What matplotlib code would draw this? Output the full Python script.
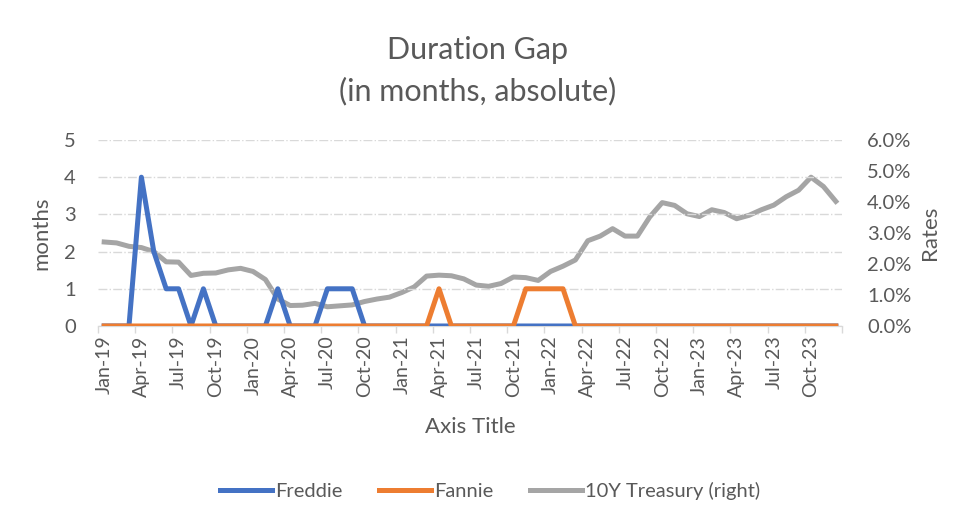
import matplotlib.pyplot as plt
from matplotlib.ticker import FixedLocator, FuncFormatter

plt.rcParams['font.family'] = ['Lato', 'DejaVu Sans']

# даты по месяцам, янв-2019 ... дек-2023
years = ['19', '20', '21', '22', '23']
mon = ['Jan', 'Feb', 'Mar', 'Apr', 'May', 'Jun', 'Jul', 'Aug', 'Sep', 'Oct', 'Nov', 'Dec']
months = [m + '-' + y for y in years for m in mon]

# разрыв дюрации, месяцы
freddie = [0, 0, 0, 4, 2, 1, 1, 0, 1, 0, 0, 0,
           0, 0, 1, 0, 0, 0, 1, 1, 1, 0, 0, 0,
           0, 0, 0, 0, 0, 0, 0, 0, 0, 0, 0, 0,
           0, 0, 0, 0, 0, 0, 0, 0, 0, 0, 0, 0,
           0, 0, 0, 0, 0, 0, 0, 0, 0, 0, 0, 0]
fannie = [0, 0, 0, 0, 0, 0, 0, 0, 0, 0, 0, 0,
          0, 0, 0, 0, 0, 0, 0, 0, 0, 0, 0, 0,
          0, 0, 0, 1, 0, 0, 0, 0, 0, 0, 1, 1,
          1, 1, 0, 0, 0, 0, 0, 0, 0, 0, 0, 0,
          0, 0, 0, 0, 0, 0, 0, 0, 0, 0, 0, 0]
# доходность 10-летних казначейских облигаций, %
treasury = [2.71, 2.68, 2.57, 2.53, 2.40, 2.07, 2.06, 1.63, 1.70, 1.71, 1.81, 1.86,
            1.76, 1.50, 0.87, 0.66, 0.67, 0.73, 0.62, 0.65, 0.68, 0.79, 0.87, 0.93,
            1.08, 1.26, 1.61, 1.64, 1.62, 1.52, 1.32, 1.28, 1.37, 1.58, 1.56, 1.47,
            1.76, 1.93, 2.13, 2.75, 2.90, 3.14, 2.90, 2.90, 3.52, 3.98, 3.89, 3.62,
            3.53, 3.75, 3.66, 3.46, 3.57, 3.75, 3.90, 4.17, 4.38, 4.80, 4.50, 4.02]

blue = '#4472C4'
orange = '#ED7D31'
grey = '#A5A5A5'
txt = '#595959'

fig = plt.figure(figsize=(9.55, 5.21), dpi=100)
ax = fig.add_axes([0.1026, 0.3743, 0.7791, 0.357])
ax2 = ax.twinx()

x = list(range(len(months)))
l1, = ax.plot(x, freddie, color=blue, lw=3.6, solid_joinstyle='round', label='Freddie', zorder=3)
l2, = ax.plot(x, fannie, color=orange, lw=3.6, solid_joinstyle='round', label='Fannie', zorder=4)
l3, = ax2.plot(x, treasury, color=grey, lw=3.6, solid_joinstyle='round', label='10Y Treasury (right)')
ax.set_zorder(ax2.get_zorder() + 1)
ax.patch.set_visible(False)

ax.set_xlim(-0.5, 59.5)
ax.set_ylim(0, 5)
ax2.set_ylim(0, 6)

ax.yaxis.grid(True, color='#D9D9D9', linestyle='-.', linewidth=1)
ax.set_yticks(range(6))

ax.set_xticks(range(0, 60, 3))
ax.set_xticklabels(months[::3], rotation=90)
ax.xaxis.set_minor_locator(FixedLocator([-0.5 + 3 * k for k in range(21)]))
ax.tick_params(axis='x', which='major', length=0, pad=7, labelsize=14, labelcolor=txt)
ax.tick_params(axis='x', which='minor', length=5, color='#D9D9D9', width=1)
ax.tick_params(axis='y', length=0, labelsize=14.5, labelcolor=txt, pad=16)

ax2.set_yticks(range(7))
ax2.yaxis.set_major_formatter(FuncFormatter(lambda v, p: '{:.1f}%'.format(v)))
ax2.tick_params(axis='y', length=0, labelsize=14.5, labelcolor=txt, pad=18)

for a in (ax, ax2):
    for s in ['top', 'left', 'right']:
        a.spines[s].set_visible(False)
    a.spines['bottom'].set_color('#D9D9D9')

ax.set_ylabel('months', fontsize=16, color=txt, labelpad=9)
ax2.set_ylabel('Rates', fontsize=16, color=txt, labelpad=6)
ax.set_xlabel('Axis Title', fontsize=16, color=txt, labelpad=14)

fig.suptitle('Duration Gap\n(in months, absolute)', fontsize=22, color=txt, y=0.93, linespacing=1.5)

fig.legend(handles=[l1, l2, l3], loc='center', bbox_to_anchor=(0.513, 0.058), ncol=3,
           frameon=False, fontsize=14.5, labelcolor=txt, handlelength=2.6,
           handletextpad=0.15, columnspacing=1.8)

plt.savefig('out.png', dpi=100)
